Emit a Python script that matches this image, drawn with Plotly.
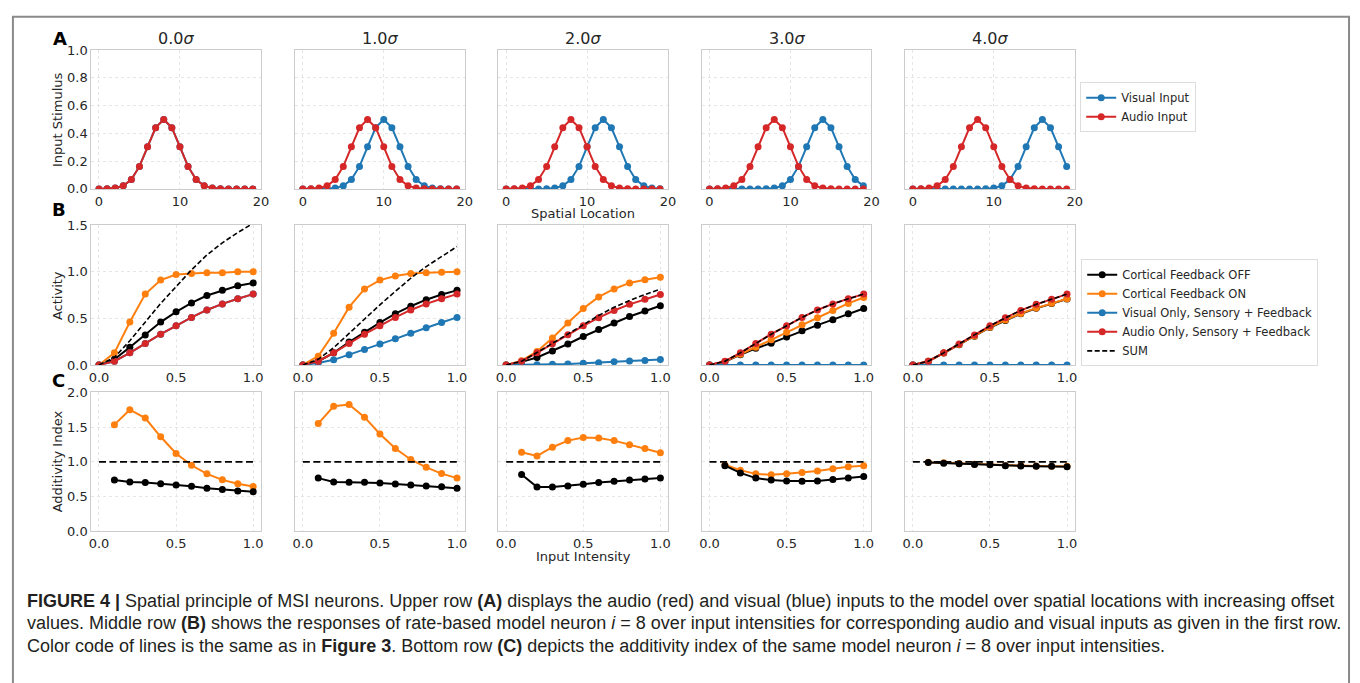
import plotly.graph_objects as go

# ---------------- data ----------------
offset_labels = ["0.0", "1.0", "2.0", "3.0", "4.0"]

spatial_location = list(range(20))
audio_input = [0.0, 0.001, 0.006, 0.022, 0.068, 0.162, 0.303, 0.441, 0.500, 0.441,
               0.303, 0.162, 0.068, 0.022, 0.006, 0.001, 0.0, 0.0, 0.0, 0.0]
visual_input_0 = [0.0, 0.001, 0.006, 0.022, 0.068, 0.162, 0.303, 0.441, 0.500, 0.441,
                  0.303, 0.162, 0.068, 0.022, 0.006, 0.001, 0.0, 0.0, 0.0, 0.0]
visual_input_1 = [0.0, 0.0, 0.0, 0.001, 0.006, 0.022, 0.068, 0.162, 0.303, 0.441,
                  0.500, 0.441, 0.303, 0.162, 0.068, 0.022, 0.006, 0.001, 0.0, 0.0]
visual_input_2 = [0.0, 0.0, 0.0, 0.0, 0.0, 0.001, 0.006, 0.022, 0.068, 0.162,
                  0.303, 0.441, 0.500, 0.441, 0.303, 0.162, 0.068, 0.022, 0.006, 0.001]
visual_input_3 = [0.0, 0.0, 0.0, 0.0, 0.0, 0.0, 0.0, 0.001, 0.006, 0.022,
                  0.068, 0.162, 0.303, 0.441, 0.500, 0.441, 0.303, 0.162, 0.068, 0.022]
visual_input_4 = [0.0, 0.0, 0.0, 0.0, 0.0, 0.0, 0.0, 0.0, 0.0, 0.001,
                  0.006, 0.022, 0.068, 0.162, 0.303, 0.441, 0.500, 0.441, 0.303, 0.162]
visual_inputs = [visual_input_0, visual_input_1, visual_input_2, visual_input_3, visual_input_4]

intensity = [0.0, 0.1, 0.2, 0.3, 0.4, 0.5, 0.6, 0.7, 0.8, 0.9, 1.0]

feedback_off = [
    [0, 0.06, 0.19, 0.32, 0.46, 0.57, 0.665, 0.745, 0.80, 0.85, 0.88],
    [0, 0.04, 0.13, 0.245, 0.35, 0.455, 0.55, 0.63, 0.70, 0.755, 0.80],
    [0, 0.033, 0.08, 0.15, 0.225, 0.305, 0.38, 0.45, 0.52, 0.58, 0.635],
    [0, 0.035, 0.11, 0.178, 0.234, 0.30, 0.367, 0.427, 0.486, 0.549, 0.605],
    [0, 0.04, 0.127, 0.218, 0.307, 0.402, 0.477, 0.55, 0.607, 0.658, 0.707],
]
feedback_on = [
    [0, 0.13, 0.46, 0.76, 0.91, 0.97, 0.98, 0.99, 0.99, 1.0, 1.0],
    [0, 0.094, 0.34, 0.62, 0.815, 0.91, 0.955, 0.98, 0.99, 0.995, 1.0],
    [0, 0.046, 0.145, 0.29, 0.45, 0.605, 0.73, 0.815, 0.88, 0.915, 0.94],
    [0, 0.038, 0.115, 0.19, 0.27, 0.35, 0.43, 0.507, 0.584, 0.66, 0.724],
    [0, 0.04, 0.128, 0.22, 0.31, 0.405, 0.482, 0.553, 0.61, 0.662, 0.71],
]
visual_only = [
    [0, 0.04, 0.13, 0.23, 0.33, 0.42, 0.51, 0.59, 0.655, 0.71, 0.76],
    [0, 0.02, 0.055, 0.11, 0.165, 0.225, 0.28, 0.34, 0.40, 0.455, 0.51],
    [0, 0.0, 0.003, 0.007, 0.01, 0.017, 0.024, 0.035, 0.042, 0.049, 0.059],
    [0, 0, 0, 0, 0, 0, 0, 0, 0, 0, 0],
    [0, 0, 0, 0, 0, 0, 0, 0, 0, 0, 0],
]
audio_only = [
    [0, 0.04, 0.13, 0.23, 0.33, 0.42, 0.51, 0.59, 0.655, 0.71, 0.76],
    [0, 0.04, 0.13, 0.23, 0.33, 0.42, 0.51, 0.59, 0.655, 0.71, 0.76],
    [0, 0.04, 0.13, 0.227, 0.325, 0.42, 0.507, 0.584, 0.65, 0.706, 0.755],
    [0, 0.04, 0.13, 0.23, 0.33, 0.42, 0.51, 0.59, 0.655, 0.71, 0.76],
    [0, 0.04, 0.13, 0.225, 0.32, 0.42, 0.505, 0.585, 0.65, 0.705, 0.76],
]
sum_response = [
    [0, 0.08, 0.26, 0.46, 0.66, 0.84, 1.02, 1.18, 1.31, 1.42, 1.52],
    [0, 0.06, 0.185, 0.34, 0.495, 0.645, 0.79, 0.93, 1.055, 1.165, 1.27],
    [0, 0.04, 0.133, 0.234, 0.335, 0.437, 0.531, 0.619, 0.692, 0.755, 0.814],
    [0, 0.04, 0.13, 0.23, 0.33, 0.42, 0.51, 0.59, 0.655, 0.71, 0.76],
    [0, 0.04, 0.13, 0.225, 0.32, 0.42, 0.505, 0.585, 0.65, 0.705, 0.76],
]

intensity_c = [0.1, 0.2, 0.3, 0.4, 0.5, 0.6, 0.7, 0.8, 0.9, 1.0]
additivity_on = [
    [1.535, 1.75, 1.63, 1.36, 1.12, 0.95, 0.826, 0.74, 0.685, 0.643],
    [1.55, 1.80, 1.826, 1.643, 1.40, 1.19, 1.033, 0.92, 0.83, 0.765],
    [1.136, 1.085, 1.21, 1.305, 1.35, 1.343, 1.305, 1.244, 1.19, 1.13],
    [0.958, 0.878, 0.826, 0.812, 0.826, 0.845, 0.869, 0.90, 0.93, 0.944],
    [0.995, 0.985, 0.975, 0.965, 0.96, 0.948, 0.945, 0.938, 0.937, 0.935],
]
additivity_off = [
    [0.737, 0.709, 0.70, 0.685, 0.667, 0.648, 0.62, 0.60, 0.58, 0.568],
    [0.765, 0.709, 0.704, 0.704, 0.695, 0.68, 0.667, 0.65, 0.64, 0.62],
    [0.817, 0.638, 0.638, 0.653, 0.676, 0.70, 0.718, 0.737, 0.751, 0.765],
    [0.944, 0.84, 0.765, 0.737, 0.723, 0.718, 0.723, 0.746, 0.765, 0.789],
    [0.99, 0.98, 0.97, 0.96, 0.958, 0.944, 0.94, 0.934, 0.934, 0.93],
]
additivity_ref_x = [0.0, 1.0]
additivity_ref_y = [1.0, 1.0]

# ---------------- style ----------------
W, H = 1360, 683
FONT = "DejaVu Sans"
TXT = "#262626"
BLUE, ORANGE, RED, BLACK = "#1f77b4", "#ff7f0e", "#d62728", "#000000"

def fx(px):
    return px / W

def fy(py):
    return 1 - py / H

panel_left = [89, 294.5, 499.5, 704.5, 909.5]
panel_w = 171
row_top_bottom = [(44, 186), (223, 366), (394, 536)]

fig = go.Figure()
layout = {}

def ax_names(r, c):
    i = r * 5 + c + 1
    s = "" if i == 1 else str(i)
    return "x" + s, "y" + s, "xaxis" + s, "yaxis" + s

row_xrange = [[-0.95, 20.0], [-0.05, 1.05], [-0.05, 1.05]]
row_xticks = [[0, 10, 20], [0.0, 0.5, 1.0], [0.0, 0.5, 1.0]]
row_xfmt = ["d", ".1f", ".1f"]
row_yrange = [[0, 1.0], [0, 1.5], [0, 2.0]]
row_yticks = [[0, 0.2, 0.4, 0.6, 0.8, 1.0], [0, 0.5, 1.0, 1.5], [0, 0.5, 1.0, 1.5, 2.0]]

for r in range(3):
    top, bot = row_top_bottom[r]
    for c in range(5):
        xn, yn, xa, ya = ax_names(r, c)
        common = dict(
            showgrid=True, gridcolor="#e6e6e6", griddash="dot", gridwidth=1,
            showline=True, mirror=True, linecolor="#cccccc", linewidth=1,
            zeroline=False, ticks="", tickfont=dict(family=FONT, size=13, color=TXT),
        )
        layout[xa] = dict(
            domain=[fx(panel_left[c]), fx(panel_left[c] + panel_w)], anchor=yn,
            range=row_xrange[r], tickvals=row_xticks[r], tickformat=row_xfmt[r],
            **common,
        )
        layout[ya] = dict(
            domain=[fy(bot), fy(top)], anchor=xn,
            range=row_yrange[r], tickvals=row_yticks[r], tickformat=".1f",
            showticklabels=(c == 0), **common,
        )

def line_trace(x, y, color, xn, yn, name=None, legend=None, show=False, dash=None, markers=True, width=2):
    return go.Scatter(
        x=x, y=y, xaxis=xn, yaxis=yn, name=name,
        mode="lines+markers" if markers else "lines",
        line=dict(color=color, width=width, dash=dash),
        marker=dict(color=color, size=7),
        showlegend=show, legend=legend, hoverinfo="skip",
    )

# Row A
for c in range(5):
    xn, yn, _, _ = ax_names(0, c)
    first = c == 0
    fig.add_trace(line_trace(spatial_location, visual_inputs[c], BLUE, xn, yn,
                             name="Visual Input", legend="legend", show=first))
    fig.add_trace(line_trace(spatial_location, audio_input, RED, xn, yn,
                             name="Audio Input", legend="legend", show=first))

# Row B
for c in range(5):
    xn, yn, _, _ = ax_names(1, c)
    first = c == 0
    fig.add_trace(line_trace(intensity, feedback_off[c], BLACK, xn, yn,
                             name="Cortical Feedback OFF", legend="legend2", show=first))
    fig.add_trace(line_trace(intensity, feedback_on[c], ORANGE, xn, yn,
                             name="Cortical Feedback ON", legend="legend2", show=first))
    fig.add_trace(line_trace(intensity, visual_only[c], BLUE, xn, yn,
                             name="Visual Only, Sensory + Feedback", legend="legend2", show=first))
    fig.add_trace(line_trace(intensity, audio_only[c], RED, xn, yn,
                             name="Audio Only, Sensory + Feedback", legend="legend2", show=first))
    fig.add_trace(line_trace(intensity, sum_response[c], BLACK, xn, yn,
                             name="SUM", legend="legend2", show=first,
                             dash="5px,2.5px", markers=False, width=1.6))

# Row C
for c in range(5):
    xn, yn, _, _ = ax_names(2, c)
    fig.add_trace(line_trace(intensity_c, additivity_on[c], ORANGE, xn, yn))
    fig.add_trace(line_trace(intensity_c, additivity_off[c], BLACK, xn, yn))
    fig.add_trace(line_trace(additivity_ref_x, additivity_ref_y, BLACK, xn, yn,
                             dash="7px,3.5px", markers=False, width=1.8))

annotations = []

def ann(text, px, py, size=13, xanchor="center", yanchor="middle", angle=0, color=TXT, family=FONT):
    annotations.append(dict(
        text=text, x=fx(px), y=fy(py), xref="paper", yref="paper",
        xanchor=xanchor, yanchor=yanchor, showarrow=False, textangle=angle,
        font=dict(family=family, size=size, color=color),
    ))

for c in range(5):
    ann(offset_labels[c] + "<i>σ</i>", panel_left[c] + panel_w / 2, 32, size=16)

ann("<b>A</b>", 57, 32, size=18, color="#000000")
ann("<b>B</b>", 56, 207, size=18, color="#000000")
ann("<b>C</b>", 56, 382, size=18, color="#000000")

ann("Input Stimulus", 55, 115, angle=-90)
ann("Activity", 55, 295, angle=-90)
ann("Additivity Index", 55, 465, angle=-90)
ann("Spatial Location", 585, 211)
ann("Input Intensity", 585, 562)

CAP_FONT = "Liberation Sans Narrow, Arial Narrow, Liberation Sans, sans-serif"
caption_lines = [
    "<b>FIGURE 4 |</b> Spatial principle of MSI neurons. Upper row <b>(A)</b> displays the audio (red) and visual (blue) inputs to the model over spatial locations with increasing offset",
    "values. Middle row <b>(B)</b> shows the responses of rate-based model neuron <i>i</i> = 8 over input intensities for corresponding audio and visual inputs as given in the first row.",
    "Color code of lines is the same as in <b>Figure 3</b>. Bottom row <b>(C)</b> depicts the additivity index of the same model neuron <i>i</i> = 8 over input intensities.",
]
for k, line in enumerate(caption_lines):
    ann(line, 22, 607 + 23 * k, size=18, xanchor="left", color="#231f20", family=CAP_FONT)

legend_common = dict(
    xanchor="left", yanchor="top", bgcolor="white", bordercolor="#dddddd", borderwidth=1,
    font=dict(family=FONT, size=11.5, color=TXT), itemwidth=30, tracegroupgap=0,
    traceorder="normal",
)

fig.update_layout(
    width=W, height=H, margin=dict(l=0, r=0, t=0, b=0),
    paper_bgcolor="white", plot_bgcolor="white",
    annotations=annotations,
    legend=dict(x=fx(1086), y=fy(77), **legend_common),
    legend2=dict(x=fx(1087), y=fy(258), **legend_common),
    shapes=[dict(type="rect", xref="paper", yref="paper",
                 x0=fx(10), x1=fx(1357), y0=fy(10), y1=-0.1,
                 line=dict(color="#8a8a8a", width=2), fillcolor="rgba(0,0,0,0)")],
    **layout,
)

fig.write_html("out.html")
